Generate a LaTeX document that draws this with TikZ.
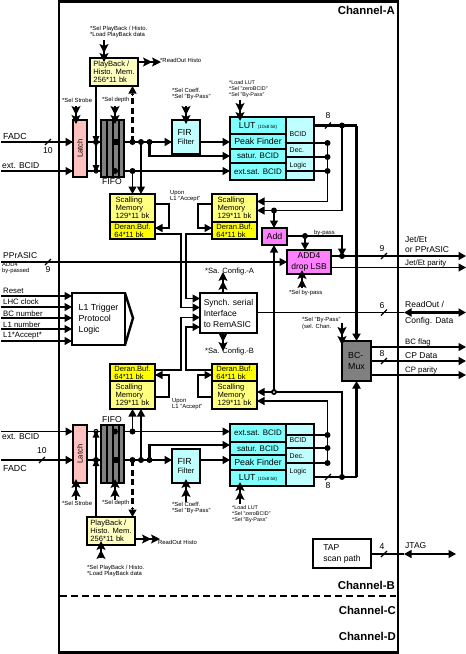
\documentclass[tikz,border=0pt]{standalone}
\usepackage{fontspec}
\setmainfont{Liberation Sans}
\usetikzlibrary{arrows.meta,calc}
\definecolor{cLatch}{HTML}{FFC0C0}
\definecolor{cFifo}{HTML}{808080}
\definecolor{cCyan}{HTML}{80FFFF}
\definecolor{cCyanL}{HTML}{C0FFFF}
\definecolor{cYel}{HTML}{FFFF80}
\definecolor{cYelS}{HTML}{FFFF00}
\definecolor{cYelL}{HTML}{FFFFC0}
\definecolor{cMag}{HTML}{FF80FF}
\tikzset{
 x=1pt,y=-1pt,
 boxs/.style={draw=black,line width=1.6pt,inner sep=0pt,outer sep=0pt,align=left,font=\fontsize{7.6}{8.2}\selectfont},
 big/.style={font=\fontsize{8.8}{11}\selectfont},
 lw1/.style={line width=1.2pt},
 lw2/.style={line width=2.4pt},
 tip/.style={-{Triangle[length=7.5pt,width=8pt]}},
 ctrl/.style={line width=1.2pt,-{Stealth[length=9pt,width=9pt,inset=2pt]Stealth[length=9pt,width=9pt,inset=2pt,sep=-4pt]}},
 lab/.style={inner sep=0pt,anchor=west,font=\fontsize{8.5}{9.8}\selectfont,align=left},
 labs/.style={inner sep=0pt,anchor=west,font=\fontsize{7.8}{8.5}\selectfont,align=left},
 tiny/.style={inner sep=0pt,anchor=west,font=\fontsize{5.9}{6.2}\selectfont,align=left},
 tinyc/.style={inner sep=0pt,anchor=west,font=\fontsize{5.4}{6.2}\selectfont,align=left},
 logl/.style={inner sep=0pt,anchor=west,font=\fontsize{7}{8}\selectfont},
 cfg/.style={inner sep=0pt,anchor=west,font=\fontsize{7.6}{8}\selectfont},
 chan/.style={inner sep=0pt,anchor=east,font=\fontsize{11.4}{13}\selectfont\bfseries},
 num/.style={inner sep=0pt,font=\fontsize{8.6}{10}\selectfont},
 tick/.style={line width=1.2pt},
}
\newcommand\bxn[7]{\pgfmathsetmacro\bxCX{(#2+#4)/2}\pgfmathsetmacro\bxCY{(#3+#5)/2}\pgfmathsetmacro\bxW{#4-#2}\pgfmathsetmacro\bxH{#5-#3}\node[boxs,#6,minimum width=\bxW pt,minimum height=\bxH pt] (#1) at (\bxCX,\bxCY) {#7};}
\newcommand\jd[1]{\fill (#1) circle (3pt);}
\newcommand\busmark[1]{\draw[tick] ($(#1)+(-3,3)$) -- ($(#1)+(3,-3)$);}
\begin{document}
\begin{tikzpicture}
\useasboundingbox (0,0) rectangle (466,654);
\fill[white] (0,0) rectangle (466,654);
% frame
\draw[line width=2.8pt] (59,1.5) rectangle (398,652.5);
\coordinate (dashL) at (60,596); \coordinate (dashR) at (396,596);
\draw[line width=2.2pt,dash pattern=on 7pt off 4pt] (dashL) -- (dashR);
\node[chan] (chA) at (395,10) {Channel-A};
\node[chan] (chB) at (395,585) {Channel-B};
\node[chan] (chC) at (396,610) {Channel-C};
\node[chan] (chD) at (396,636) {Channel-D};

% ===== coordinates, channel A =====
\coordinate (aF0) at (1,142); \coordinate (aE0) at (1,171);
\coordinate (aJ1) at (96,142); \coordinate (aJ2) at (115,142); \coordinate (aJ3) at (132.5,142); \coordinate (aJ4) at (141,142); \coordinate (aJ5) at (149.5,142);
\coordinate (aK1) at (96,171); \coordinate (aK2) at (115,171); \coordinate (aK3) at (132.5,171);
\coordinate (aSat) at (149.5,156);
% ===== coordinates, channel B =====
\coordinate (bF0) at (1,460); \coordinate (bE0) at (1,431.5);
\coordinate (bJ1) at (96,460); \coordinate (bJ2) at (115,460); \coordinate (bJ3) at (132.5,460); \coordinate (bJ4) at (141,460); \coordinate (bJ5) at (149.5,460);
\coordinate (bK1) at (96,431.5); \coordinate (bK2) at (115,431.5); \coordinate (bK3) at (132.5,431.5);
\coordinate (bSat) at (149.5,445);

% ---- wires under the boxes ----
\draw[lw2] (aF0) -- (aJ5);
\draw[lw1] (aE0) -- (aK3);
\draw[lw2] (bF0) -- (bJ5);
\draw[lw1] (bE0) -- (bK3);

% ===== boxes, channel A =====
\bxn{pbA}{90}{58}{138}{86}{fill=cYelL}{PlayBack /\\Histo. Mem.\\256*11 bk}
\bxn{latA}{73}{120}{87}{177}{fill=cLatch}{}
\node[rotate=90,inner sep=0pt,font=\fontsize{7.6}{8}\selectfont] (latAt) at (latA.center) {Latch};
\bxn{fifoA}{101}{120}{124}{177}{fill=cFifo,line width=1.2pt}{}
\draw[line width=1.6pt] (107,120) -- (107,177) (113,120) -- (113,177) (119,120) -- (119,177);
\node[num] (fifoAt) at (112,181.5) {FIFO};
\bxn{firA}{172}{120}{200}{154}{fill=cCyanL}{\fontsize{8.8}{11}\selectfont FIR\\Filter}
\bxn{lutA}{230}{117}{286}{134}{fill=cCyan,big}{LUT \fontsize{4.6}{5}\selectfont (10x8 bit)}
\bxn{peakA}{230}{134}{286}{149}{fill=cCyan,big}{Peak Finder}
\bxn{satA}{230}{149}{286}{163}{fill=cCyan,font=\fontsize{8}{9}\selectfont}{satur. BCID}
\bxn{extA}{230}{163}{286}{180}{fill=cCyan,font=\fontsize{8}{9}\selectfont}{ext.sat. BCID}
\bxn{logA}{286}{117}{314}{180}{fill=cCyanL}{}
\node[logl] (logA1) at (289.5,134) {BCID};
\node[logl] (logA2) at (289.5,150) {Dec.};
\node[logl] (logA3) at (289.5,166) {Logic};
\bxn{smAl}{110}{194}{155}{222}{fill=cYel}{Scalling\\Memory\\129*11 bk}
\bxn{dbAl}{110}{222}{155}{239}{fill=cYelS}{Deran.Buf.\\64*11 bk}
\bxn{smAr}{212}{194}{257}{222}{fill=cYel}{Scalling\\Memory\\129*11 bk}
\bxn{dbAr}{212}{222}{257}{239}{fill=cYelS}{Deran.Buf.\\64*11 bk}

% ===== boxes, channel B =====
\bxn{pbB}{87}{517}{135}{545}{fill=cYelL}{PlayBack /\\Histo. Mem.\\256*11 bk}
\bxn{latB}{73}{425}{87}{483}{fill=cLatch}{}
\node[rotate=90,inner sep=0pt,font=\fontsize{7.6}{8}\selectfont] (latBt) at (latB.center) {Latch};
\bxn{fifoB}{101}{425}{124}{483}{fill=cFifo,line width=1.2pt}{}
\draw[line width=1.6pt] (107,425) -- (107,483) (113,425) -- (113,483) (119,425) -- (119,483);
\node[num] (fifoBt) at (112,420) {FIFO};
\bxn{firB}{172}{449}{200}{483}{fill=cCyanL}{\fontsize{8.8}{11}\selectfont FIR\\Filter}
\bxn{extB}{230}{424}{286}{442}{fill=cCyan,font=\fontsize{8}{9}\selectfont}{ext.sat. BCID}
\bxn{satB}{230}{442}{286}{455}{fill=cCyan,font=\fontsize{8}{9}\selectfont}{satur. BCID}
\bxn{peakB}{230}{455}{286}{470}{fill=cCyan,big}{Peak Finder}
\bxn{lutB}{230}{470}{286}{486}{fill=cCyan,big}{LUT \fontsize{4.6}{5}\selectfont (10x8 bit)}
\bxn{logB}{286}{424}{314}{486}{fill=cCyanL}{}
\node[logl] (logB1) at (289.5,440) {BCID};
\node[logl] (logB2) at (289.5,456) {Dec.};
\node[logl] (logB3) at (289.5,472) {Logic};
\bxn{dbBl}{110}{364}{155}{381}{fill=cYelS}{Deran.Buf.\\64*11 bk}
\bxn{smBl}{110}{381}{155}{409}{fill=cYel}{Scalling\\Memory\\129*11 bk}
\bxn{dbBr}{212}{364}{257}{381}{fill=cYelS}{Deran.Buf.\\64*11 bk}
\bxn{smBr}{212}{381}{257}{409}{fill=cYel}{Scalling\\Memory\\129*11 bk}

% ===== common boxes =====
\bxn{syn}{200}{293}{257}{333}{fill=white,font=\fontsize{8.5}{11}\selectfont}{Synch. serial\\Interface\\to RemASIC}
\bxn{add}{262}{228}{287}{245}{fill=cMag,big}{Add}
\bxn{addf}{287}{250}{331}{274}{fill=cMag,align=center,font=\fontsize{8.5}{10.5}\selectfont}{ADD4\\drop LSB}
\bxn{mux}{342}{341}{371}{381}{fill=cFifo,big}{BC-\\Mux}
\bxn{tap}{313}{539}{371}{568}{fill=white,font=\fontsize{8.6}{11}\selectfont}{TAP\\scan path}
\bxn{lone}{72}{293}{125}{345}{fill=white,line width=2.4pt,font=\fontsize{8.8}{11}\selectfont}{L1 Trigger\\Protocol\\Logic}
\coordinate (lonep) at (133,318);
\draw[line width=2.4pt] (lone.north east) -- (lonep) -- (lone.south east);

% ===== channel A wiring =====
\draw[lw2,tip] (aF0) -- (latA.west |- aF0);
\draw[lw1,tip] (aE0) -- (latA.west |- aE0);
\draw[lw2,tip] (aJ5) -- (firA.west |- aJ5);
\draw[lw2,tip] (firA.east |- aJ5) -- (peakA.west |- aJ5);
\draw[lw2,tip] (aJ5) -- (aSat) -- (satA.west |- aSat);
\draw[lw1,tip] (aK3) -- (extA.west |- aK3);
\draw[lw1] (pbA.south -| aJ1) -- (aK1);
\fill ($(aJ1)+(-3.5,-6)$) -- ($(aJ1)+(3.5,-6)$) -- ($(aJ1)+(0,1)$) -- cycle;
\fill ($(aK1)+(-3.5,-6)$) -- ($(aK1)+(3.5,-6)$) -- ($(aK1)+(0,1)$) -- cycle;
\draw[lw2,dash pattern=on 6pt off 3.5pt] (aJ3) -- ($(pbA.south -| aJ3)+(0,8)$);
\draw[lw1,tip] ($(pbA.south -| aJ3)+(0,10)$) -- (pbA.south -| aJ3);
\draw[lw1,tip] (aK3) -- (smAl.north -| aK3);
\draw[lw1,tip] (aJ4) -- (smAl.north -| aJ4);
\foreach \p in {aJ1,aJ2,aJ3,aJ4,aJ5,aK2,aK3}{\jd{\p}}
\draw[lw1] (aK1) circle (2pt);
\fill[black] (aJ2) ++(-3,-3) rectangle ++(6,6);
% feedback & readout
\coordinate (afL) at (169,204); \coordinate (afR) at (198,204);
\coordinate (adL) at (169,228); \coordinate (adR) at (198,228);
\draw[lw1,tip] (smAl.east |- afL) -- (afL) -- (adL) -- (dbAl.east |- adL);
\draw[lw1,tip] (smAr.west |- afR) -- (afR) -- (adR) -- (dbAr.west |- adR);
\coordinate (arl) at (181,234); \coordinate (arr) at (186,234);
\coordinate (sin1) at (186,298.5); \coordinate (sin2) at (181,307.5); \coordinate (sin3) at (181,317.5); \coordinate (sin4) at (186,327);
\draw[lw1,tip] (dbAl.east |- arl) -- (arl) -- (sin2) -- (syn.west |- sin2);
\draw[lw1,tip] (dbAr.west |- arr) -- (arr) -- (sin1) -- (syn.west |- sin1);
% logic outputs A
\coordinate (ao1) at (327.5,143); \coordinate (ao2) at (327.5,157); \coordinate (ao3) at (327.5,171);
\coordinate (ao4) at (327.5,201.5);
\coordinate (ab0) at (342,125.5); \coordinate (ab1) at (356.5,125.5); \coordinate (ab2) at (342,210.5); \coordinate (ab3) at (274,210.5);
\draw[lw1] (logA.west |- ao1) -- (ao1);
\draw[lw1] (logA.west |- ao2) -- (ao2);
\draw[lw1] (logA.west |- ao3) -- (ao3);
\draw[lw1,tip] (ao1) -- (ao4) -- (smAr.east |- ao4);
\draw[lw2] (logA.east |- ab1) -- (ab1);
\draw[lw1,tip] (ab0) -- (ab2) -- (smAr.east |- ab2);
\draw[lw1,tip] (ab3) -- (add.north -| ab3);
\foreach \p in {ao1,ao2,ao3,ab0,ab3}{\jd{\p}}

% ===== channel B wiring =====
\draw[lw2,tip] (bF0) -- (latB.west |- bF0);
\draw[lw1,tip] (bE0) -- (latB.west |- bE0);
\draw[lw2,tip] (bJ5) -- (firB.west |- bJ5);
\draw[lw2,tip] (firB.east |- bJ5) -- (peakB.west |- bJ5);
\draw[lw2,tip] (bJ5) -- (bSat) -- (satB.west |- bSat);
\draw[lw1,tip] (bK3) -- (extB.west |- bK3);
\draw[lw1] (pbB.north -| bJ1) -- (bK1);
\fill ($(bJ1)+(-3.5,6)$) -- ($(bJ1)+(3.5,6)$) -- ($(bJ1)+(0,-1)$) -- cycle;
\fill ($(bK1)+(-3.5,6)$) -- ($(bK1)+(3.5,6)$) -- ($(bK1)+(0,-1)$) -- cycle;
\draw[lw2,dash pattern=on 6pt off 3.5pt] (bJ3) -- ($(pbB.north -| bJ3)+(0,-8)$);
\draw[lw1,tip] ($(pbB.north -| bJ3)+(0,-10)$) -- (pbB.north -| bJ3);
\draw[lw1,tip] (bK3) -- (smBl.south -| bK3);
\draw[lw1,tip] (bJ4) -- (smBl.south -| bJ4);
\foreach \p in {bJ1,bJ2,bJ3,bJ4,bJ5,bK2,bK3}{\jd{\p}}
\draw[lw1] (bK1) circle (2pt);
\fill[black] (bJ2) ++(-3,-3) rectangle ++(6,6);
\coordinate (bfL) at (169,397); \coordinate (bfR) at (198,397);
\coordinate (bdL) at (169,375); \coordinate (bdR) at (198,375);
\draw[lw1,tip] (smBl.east |- bfL) -- (bfL) -- (bdL) -- (dbBl.east |- bdL);
\draw[lw1,tip] (smBr.west |- bfR) -- (bfR) -- (bdR) -- (dbBr.west |- bdR);
\coordinate (brl) at (181,370); \coordinate (brr) at (186,370);
\draw[lw1,tip] (dbBl.east |- brl) -- (brl) -- (sin3) -- (syn.west |- sin3);
\draw[lw1,tip] (dbBr.west |- brr) -- (brr) -- (sin4) -- (syn.west |- sin4);
\coordinate (bo1) at (327.5,435); \coordinate (bo2) at (327.5,448); \coordinate (bo3) at (327.5,463);
\coordinate (bo4) at (327.5,401);
\coordinate (bb0) at (342,477); \coordinate (bb1) at (356.5,477); \coordinate (bb2) at (342,392); \coordinate (bb3) at (274,392);
\draw[lw1] (logB.west |- bo1) -- (bo1);
\draw[lw1] (logB.west |- bo2) -- (bo2);
\draw[lw1] (logB.west |- bo3) -- (bo3);
\draw[lw1,tip] (bo3) -- (bo4) -- (smBr.east |- bo4);
\draw[lw2] (logB.east |- bb1) -- (bb1);
\draw[lw1,tip] (bb0) -- (bb2) -- (smBr.east |- bb2);
\draw[lw1,tip] (bb3) -- (add.south -| bb3);
\foreach \p in {bo1,bo2,bo3,bb0}{\jd{\p}}
\fill (bb3) circle (3pt); \fill[white] (bb3) circle (1pt);

% vertical bus to BC-Mux
\draw[lw2,tip] (ab1) -- (mux.north -| ab1);
\draw[lw2,tip] (bb1) -- (mux.south -| bb1);

% ===== Add / ADD4 =====
\coordinate (by0) at (305,236); \coordinate (by1) at (342,236); \coordinate (by2) at (342,256);
\draw[lw1,tip] (add.east |- by0) -- (by0) -- (addf.north -| by0);
\draw[lw1,tip] (by0) -- (by1) -- (by2);
\jd{by0}\jd{by2}
\coordinate (pp0) at (1,262);
\draw[lw1,tip] (pp0) -- (addf.west |- pp0);
\coordinate (jetR) at (466,256); \coordinate (parR) at (466,267.5);
\draw[lw2,tip] (addf.east |- jetR) -- (jetR);
\draw[lw1,tip] (addf.east |- parR) -- (parR);
% ReadOut
\coordinate (roR) at (466,312.5); \coordinate (roL) at (404,312.5);
\draw[lw1] (syn.east |- roR) -- (roL);
\draw[lw2,{Triangle[length=7.5pt,width=8pt]}-{Triangle[length=7.5pt,width=8pt]}] (roL) -- (roR);
% BC-Mux outputs
\coordinate (bgR) at (466,347); \coordinate (cdR) at (466,361); \coordinate (cpR) at (466,375);
\draw[lw1,tip] (mux.east |- bgR) -- (bgR);
\draw[lw2,tip] (mux.east |- cdR) -- (cdR);
\draw[lw1,tip] (mux.east |- cpR) -- (cpR);
% TAP
\coordinate (jR) at (456,554); \coordinate (jL) at (404,554);
\draw[lw1] (tap.east |- jR) -- (jL);
\draw[lw1,{Triangle[length=7.5pt,width=8pt]}-{Triangle[length=7.5pt,width=8pt]}] (jL) -- (jR);
% L1 inputs
\foreach \n/\y in {a/296,b/307,c/318,d/329,e/341}{
 \coordinate (li\n) at (1,\y);
 \draw[lw1,tip] (li\n) -- (lone.west |- li\n);
}

% ===== control arrows =====
\coordinate (c1) at (104,40); \draw[ctrl] (c1) -- (pbA.north -| c1);
\coordinate (c2) at (76,106); \draw[ctrl] (c2) -- (latA.north -| c2);
\coordinate (c3) at (115,106); \draw[ctrl] (c3) -- (fifoA.north -| c3);
\coordinate (c4) at (186,106); \draw[ctrl] (c4) -- (firA.north -| c4);
\coordinate (c5) at (240,100); \draw[ctrl] (c5) -- (lutA.north -| c5);
\coordinate (c6) at (157,62); \draw[ctrl] (pbA.east |- c6) -- (c6);
\coordinate (d1) at (101,558); \draw[ctrl] (d1) -- (pbB.south -| d1);
\coordinate (d2) at (76,500); \draw[ctrl] (d2) -- (latB.south -| d2);
\coordinate (d3) at (115,500); \draw[ctrl] (d3) -- (fifoB.south -| d3);
\coordinate (d4) at (186,502); \draw[ctrl] (d4) -- (firB.south -| d4);
\coordinate (d5) at (240,504); \draw[ctrl] (d5) -- (lutB.south -| d5);
\coordinate (d6) at (156,539); \draw[ctrl] (pbB.east |- d6) -- (d6);
\coordinate (s1) at (223,276); \draw[ctrl] (syn.north -| s1) -- (s1);
\coordinate (s2) at (223,347); \draw[ctrl] (syn.south -| s2) -- (s2);
\coordinate (g1) at (302,288); \draw[ctrl] (g1) -- (addf.south -| g1);
\coordinate (g2) at (342,323); \draw[ctrl] (g2) -- (mux.north -| g2);

% ===== bus ticks =====
\coordinate (t1) at (48,142); \busmark{t1}
\coordinate (t2) at (48,262); \busmark{t2}
\coordinate (t3) at (42,460); \busmark{t3}
\coordinate (t4) at (328,125.5); \busmark{t4}
\coordinate (t5) at (328,477); \busmark{t5}
\coordinate (t6) at (384,256); \busmark{t6}
\coordinate (t7) at (384,312.5); \busmark{t7}
\coordinate (t8) at (384,361); \busmark{t8}
\coordinate (t9) at (384,554); \busmark{t9}
\node[num] (n1) at (48,150.5) {10};
\node[num] (n2) at (48,269.5) {9};
\node[num] (n3) at (42,451) {10};
\node[num] (n4) at (328,116) {8};
\node[num] (n5) at (328,485.5) {8};
\node[num] (n6) at (382,249) {9};
\node[num] (n7) at (382,306) {6};
\node[num] (n8) at (382,354) {8};
\node[num] (n9) at (382,547) {4};

% ===== signal labels =====
\node[lab,font=\fontsize{8.8}{10}\selectfont] (lFa) at (3,136) {FADC};
\node[lab] (lEa) at (2,166) {ext. BCID};
\node[lab,font=\fontsize{8.8}{10}\selectfont] (lFb) at (3,468) {FADC};
\node[lab] (lEb) at (2,437) {ext. BCID};
\node[lab] (lPP) at (3,256) {PPrASIC};
\node[tiny] (lPPb) at (2,268) {ADD4\\by-passed};
\node[labs] (lRe) at (3,291) {Reset};
\node[labs] (lLh) at (3,302) {LHC clock};
\node[labs] (lBc) at (3,314) {BC number};
\node[labs] (lL1) at (3,325) {L1 number};
\node[labs] (lAc) at (3,336) {L1*Accept*};
\node[lab] (lJe) at (405,244.5) {Jet/Et\\or PPrASIC};
\node[labs] (lJp) at (405,263) {Jet/Et parity};
\node[lab] (lRo) at (405,304) {ReadOut /};
\node[lab] (lCo) at (405,321) {Config. Data};
\node[labs] (lBf) at (405,342.5) {BC flag};
\node[lab] (lCd) at (405,356) {CP Data};
\node[labs] (lCp) at (405,370) {CP parity};
\node[lab] (lJt) at (405,546) {JTAG};

% ===== small command labels =====
\node[tiny] (x1) at (90,32) {*Sel PlayBack / Histo.\\*Load PlayBack data};
\node[tiny] (x2) at (160,60) {*ReadOut Histo};
\node[tiny] (x3) at (62,100) {*Sel Strobe};
\node[tiny] (x4) at (102,100) {*Sel depth};
\node[tiny] (x5) at (172,94) {*Sel Coeff.\\*Sel "By-Pass"};
\node[tinyc] (x6) at (229,89) {*Load LUT\\*Sel "zeroBCID"\\*Sel "By-Pass"};
\node[tiny] (x7) at (170,196) {Upon\\L1 "Accept"};
\node[tiny] (x8) at (172,404) {Upon\\L1 "Accept"};
\node[cfg] (x9) at (205,272) {*Sa. Config.-A};
\node[cfg] (x10) at (205,352) {*Sa. Config.-B};
\node[tiny] (x11) at (314,232.5) {by-pass};
\node[tiny] (x12) at (289,293) {*Sel by-pass};
\node[tiny] (x13) at (302,323.5) {*Sel "By-Pass"\\(sel. Chan.};
\node[tiny] (y1) at (62,503) {*Sel Strobe};
\node[tiny] (y2) at (102,503) {*Sel depth};
\node[tiny] (y3) at (172,508) {*Sel Coeff.\\*Sel "By-Pass"};
\node[tinyc] (y4) at (232,514) {*Load LUT\\*Sel "zeroBCID"\\*Sel "By-Pass"};
\node[tiny] (y5) at (158,542) {ReadOut Histo};
\node[tiny] (y6) at (87,571) {*Sel PlayBack / Histo.\\*Load PlayBack data};
\end{tikzpicture}
\end{document}
